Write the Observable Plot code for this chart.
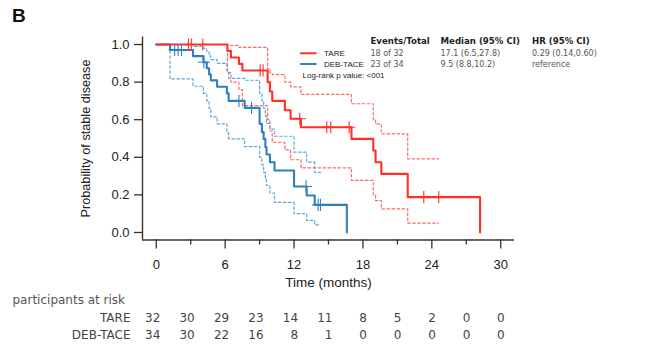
<!DOCTYPE html>
<html><head><meta charset="utf-8">
<script src="https://cdn.jsdelivr.net/npm/d3@7"></script>
<script src="https://cdn.jsdelivr.net/npm/@observablehq/plot@0.6"></script>
<style>body{margin:0;background:#fff} #chart svg{display:block}</style>
</head><body><div id="chart"></div>
<script>
// ---- data ----
// Kaplan-Meier steps [time (months), probability after step]
const tareKM = [[0,1],[6.2,0.966],[6.5,0.931],[7.2,0.897],[7.5,0.862],[9.7,0.80],[9.9,0.75],[10.1,0.70],[11.2,0.65],[11.7,0.605],[12.6,0.56],[17.0,0.498],[18.9,0.436],[19.1,0.374],[19.6,0.312],[21.9,0.188],[28.2,0]];
const debKM = [[0,1],[1.2,0.971],[3.2,0.938],[4.1,0.906],[4.4,0.874],[4.6,0.841],[4.75,0.809],[5.3,0.775],[6.15,0.74],[6.3,0.70],[7.7,0.663],[9.0,0.578],[9.2,0.534],[9.35,0.498],[9.5,0.454],[9.6,0.415],[9.9,0.374],[10.3,0.33],[12.0,0.245],[13.1,0.197],[13.8,0.147],[16.6,0]];
// 95% CI bands
const tareHi = [[0,1],[6.2,0.995],[7.2,0.985],[9.7,0.87],[9.9,0.85],[10.1,0.84],[11.2,0.80],[11.7,0.775],[12.6,0.735],[17.0,0.685],[18.9,0.60],[19.1,0.578],[19.6,0.525],[21.9,0.392],[24.6,0.392]];
const tareLo = [[0,1],[6.2,0.85],[6.5,0.80],[7.2,0.76],[7.5,0.675],[9.7,0.60],[9.9,0.54],[10.1,0.48],[11.2,0.44],[11.7,0.387],[12.6,0.344],[17.0,0.277],[18.9,0.20],[19.1,0.17],[19.6,0.126],[21.9,0.05],[24.6,0.05]];
const debHi = [[0,1],[3.2,0.99],[4.1,0.98],[4.4,0.96],[4.6,0.94],[4.75,0.92],[5.3,0.90],[6.15,0.86],[6.3,0.82],[7.7,0.81],[9.0,0.74],[9.2,0.70],[9.35,0.66],[9.5,0.62],[9.6,0.58],[9.9,0.55],[10.3,0.512],[12.0,0.427],[13.1,0.374],[13.8,0.32],[14.3,0.32]];
const debLo = [[0,1],[1.2,0.817],[3.2,0.778],[4.1,0.74],[4.4,0.70],[4.6,0.66],[4.75,0.615],[5.3,0.578],[6.15,0.53],[6.3,0.498],[7.7,0.457],[9.0,0.40],[9.2,0.36],[9.35,0.32],[9.5,0.28],[9.6,0.25],[9.9,0.21],[10.3,0.16],[12.0,0.10],[13.1,0.064],[13.8,0.04],[14.3,0.04]];
// censoring times
const tareCensor = [2.8,3.05,4.05,9.05,9.3,12.5,14.85,15.2,16.8,23.3,24.6];
const debCensor = [1.6,1.9,2.2,4.15,7.2,8.3,13.05,14.1,14.3];
// numbers at risk
const riskTimes = [0,3,6,9,12,15,18,21,24,27,30];
const tareRisk = [32,30,29,23,14,11,8,5,2,0,0];
const debRisk = [34,30,22,16,8,1,0,0,0,0,0];
// ticks
const xMajor = [0,6,12,18,24,30];
const xMinor = [3,9,15,21,27];
const yTicks = [0,0.2,0.4,0.6,0.8,1.0];
// legend / stats table
const groups = ["TARE","DEB-TACE"];
const statHeaders = ["Events/Total","Median (95% CI)","HR (95% CI)"];
const events = ["18 of 32","23 of 34"];
const medians = ["17.1 (6.5,27.8)","9.5 (8.8,10.2)"];
const hrs = ["0.29 (0.14,0.60)","reference"];
const logrank = "Log-rank p value: <001";

const RED = "#ff3028", RED_CI = "#ff6a6a", BLUE = "#2f80c0", BLUE_CI = "#5aa9dc";

const pts = arr => arr.map(([t,s]) => ({t, s}));
function levelAt(steps, t){ let v = steps[0][1]; for (const [x,y] of steps) if (x <= t) v = y; return v; }
const cens = (times, steps) => times.map(t => ({t, s: levelAt(steps, t)}));

const F = "Liberation Sans, Arial, Helvetica, sans-serif";
const plot = Plot.plot({
  width: 648, height: 355,
  marginLeft: 142, marginRight: 134, marginTop: 36.5, marginBottom: 115.5,
  style: {fontFamily: F, background: "white", color: "#222"},
  x: {domain: [-1.2, 31.2], label: null},
  y: {domain: [-0.04, 1.04], label: null},
  marks: [
    // CI bands
    Plot.line(pts(tareHi), {x:"t", y:"s", curve:"step-after", stroke: RED_CI, strokeWidth: 1.2, strokeDasharray: "2.6,2.4"}),
    Plot.line(pts(tareLo), {x:"t", y:"s", curve:"step-after", stroke: RED_CI, strokeWidth: 1.2, strokeDasharray: "2.6,2.4"}),
    Plot.line(pts(debHi), {x:"t", y:"s", curve:"step-after", stroke: BLUE_CI, strokeWidth: 1.2, strokeDasharray: "2.6,2.4"}),
    Plot.line(pts(debLo), {x:"t", y:"s", curve:"step-after", stroke: BLUE_CI, strokeWidth: 1.2, strokeDasharray: "2.6,2.4"}),
    // KM curves
    Plot.line(pts(debKM), {x:"t", y:"s", curve:"step-after", stroke: BLUE, strokeWidth: 2.1}),
    Plot.line(pts(tareKM), {x:"t", y:"s", curve:"step-after", stroke: RED, strokeWidth: 2.1}),
    Plot.dot(cens(debCensor, debKM), {x:"t", y:"s", symbol:"plus", r: 4, stroke: BLUE, strokeWidth: 1.1}),
    Plot.dot(cens(tareCensor, tareKM), {x:"t", y:"s", symbol:"plus", r: 4, stroke: RED, strokeWidth: 1.1}),
    // frame (L shape)
    Plot.ruleX([-1.2], {stroke: "#333", strokeWidth: 1.4}),
    Plot.ruleY([-0.04], {stroke: "#333", strokeWidth: 1.4}),
    // axes
    Plot.axisY({ticks: yTicks, tickFormat: d3.format(".1f"), tickSize: 8, tickPadding: 5, fontSize: 13, stroke: "#333", strokeWidth: 1.3, fill: "#222"}),
    Plot.axisX({ticks: xMajor, tickSize: 9, tickPadding: 11, fontSize: 13, stroke: "#333", strokeWidth: 1.3, fill: "#222"}),
    Plot.axisX({ticks: xMinor, tickSize: 5, tickFormat: () => "", stroke: "#333", strokeWidth: 1.3}),
    Plot.text(["Probability of stable disease"], {frameAnchor: "left", textAnchor: "middle", rotate: -90, dx: -57, fontSize: 12.7, fill: "#222"}),
    Plot.text(["Time (months)"], {frameAnchor: "bottom", dy: 46.5, fontSize: 13.5, fill: "#222"}),
    // numbers at risk
    Plot.text(["participants at risk"], {frameAnchor: "bottom-left", dx: -130, dy: 64, textAnchor: "start", fontFamily: "DejaVu Sans", fontSize: 12, fill: "#555"}),
    Plot.text([groups[0]], {frameAnchor: "bottom-left", dx: -12, dy: 82, textAnchor: "end", fontFamily: "DejaVu Sans", fontSize: 12, fill: "#444"}),
    Plot.text([groups[1]], {frameAnchor: "bottom-left", dx: -12, dy: 99, textAnchor: "end", fontFamily: "DejaVu Sans", fontSize: 12, fill: "#444"}),
    Plot.text(riskTimes, {x: d => d, text: (d,i) => tareRisk[i], frameAnchor: "bottom", dy: 82, dx: 4, textAnchor: "end", fontFamily: "DejaVu Sans", fontSize: 12, fill: "#444"}),
    Plot.text(riskTimes, {x: d => d, text: (d,i) => debRisk[i], frameAnchor: "bottom", dy: 99, dx: 4, textAnchor: "end", fontFamily: "DejaVu Sans", fontSize: 12, fill: "#444"})
  ]
});

// annotations: panel letter, legend, stats table
const svg = d3.select(plot);
const T = (g, x, y) => g.append("text").attr("x", x).attr("y", y).attr("text-anchor", "start");
T(svg, 12, 22).attr("font-family", F).attr("font-weight", "bold").attr("font-size", 19).attr("fill", "#111").text("B");
const leg = svg.append("g").attr("text-anchor", "start");
[[RED, 53.3], [BLUE, 64]].forEach(([c, y], i) => {
  leg.append("line").attr("x1", 300).attr("x2", 316.5).attr("y1", y).attr("y2", y).attr("stroke", c).attr("stroke-width", 2);
  T(leg, 324, y).attr("dy", "0.35em").attr("font-family", F).attr("font-size", 8).attr("fill", "#222").text(groups[i]);
});
T(leg, 302.5, 75).attr("dy", "0.35em").attr("font-family", F).attr("font-size", 8).attr("fill", "#222").text(logrank);
const colX = [370.5, 440.5, 532];
statHeaders.forEach((h, j) => T(leg, colX[j], 40.7).attr("dy", "0.35em").attr("font-family", "DejaVu Sans").attr("font-weight", "bold").attr("font-size", 8.6).attr("fill", "#222").text(h));
[events, medians, hrs].forEach((col, j) => col.forEach((v, i) => T(leg, colX[j], i ? 64 : 53.3).attr("dy", "0.35em").attr("font-family", "DejaVu Sans").attr("font-size", 8).attr("fill", "#555").text(v)));

document.getElementById("chart").append(plot);
</script></body></html>
